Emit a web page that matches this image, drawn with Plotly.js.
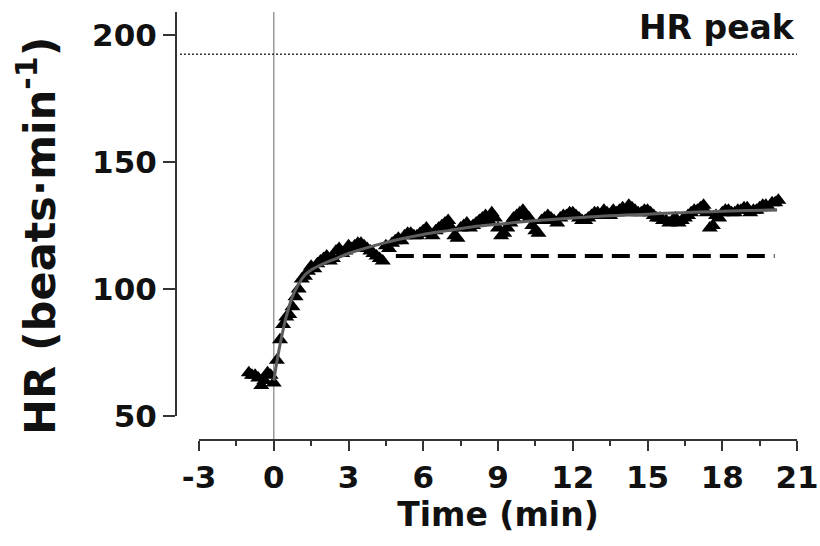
<!DOCTYPE html>
<html>
<head>
<meta charset="utf-8">
<script src="https://cdn.plot.ly/plotly-3.0.1.min.js"></script>
<style>html,body{margin:0;padding:0;background:#fff;}#chart{width:820px;height:546px;}</style>
</head>
<body>
<div id="chart"></div>
<script>
// Measured HR data (beats·min-1) vs time (min)
var timeData = [-1, -0.75, -0.5, -0.25, 0,
  0.25, 0.5, 0.75, 1.0, 1.25, 1.5, 1.75, 2.0, 2.25, 2.5, 2.75, 3.0, 3.25, 3.5, 3.75,
  4.0, 4.25, 4.5, 4.75, 5.0, 5.25, 5.5, 5.75, 6.0, 6.25, 6.5, 6.75, 7.0, 7.25, 7.5, 7.75,
  8.0, 8.25, 8.5, 8.75, 9.0, 9.25, 9.5, 9.75, 10.0, 10.25, 10.5, 10.75, 11.0, 11.25, 11.5, 11.75,
  12.0, 12.25, 12.5, 12.75, 13.0, 13.25, 13.5, 13.75, 14.0, 14.25, 14.5, 14.75, 15.0, 15.25, 15.5, 15.75,
  16.0, 16.25, 16.5, 16.75, 17.0, 17.25, 17.5, 17.75, 18.0, 18.25, 18.5, 18.75, 19.0, 19.25, 19.5, 19.75,
  20.0, 20.25];
var hrData = [67, 66, 62, 67, 63,
  80, 89, 93, 100, 105, 109, 110, 112, 111, 115, 114, 117, 117, 118, 116,
  114, 112, 117, 118, 120, 121, 122, 121, 123, 122, 123, 125, 127, 121, 124, 126,
  125, 127, 129, 130, 124, 122, 126, 129, 131, 128, 123, 127, 129, 127, 128, 129,
  130, 128, 127, 129, 130, 131, 129, 130, 132, 133, 131, 130, 131, 129, 128, 127,
  127, 126, 128, 130, 131, 133, 124, 129, 130, 131, 130, 131, 132, 131, 132, 133,
  134, 135];
var timeData2 = [-0.875, -0.625, -0.375, -0.125,
  0.125, 0.375, 0.625, 0.875, 1.125, 1.375, 1.625, 1.875, 2.125, 2.375, 2.625, 2.875, 3.125, 3.375, 3.625, 3.875,
  4.125, 4.375, 4.625, 4.875, 5.125, 5.375, 5.625, 5.875, 6.125, 6.375, 6.625, 6.875, 7.125, 7.375, 7.625, 7.875,
  8.125, 8.375, 8.625, 8.875, 9.125, 9.375, 9.625, 9.875, 10.125, 10.375, 10.625, 10.875, 11.125, 11.375, 11.625, 11.875,
  12.125, 12.375, 12.625, 12.875, 13.125, 13.375, 13.625, 13.875, 14.125, 14.375, 14.625, 14.875, 15.125, 15.375, 15.625, 15.875,
  16.125, 16.375, 16.625, 16.875, 17.125, 17.375, 17.625, 17.875, 18.125, 18.375, 18.625, 18.875, 19.125, 19.375, 19.625, 19.875,
  20.125];
var hrData2 = [66, 65, 64, 66,
  72, 86, 90, 97, 104, 107, 108, 111, 113, 112, 116, 115, 116, 118, 117, 115,
  113, 111, 116, 119, 119, 122, 121, 122, 124, 121, 124, 126, 124, 120, 125, 124,
  126, 128, 127, 128, 121, 124, 128, 130, 129, 125, 122, 128, 128, 126, 129, 130,
  129, 127, 128, 130, 129, 130, 131, 131, 131, 132, 130, 131, 130, 128, 127, 126,
  128, 127, 129, 131, 132, 130, 125, 128, 131, 130, 131, 132, 130, 131, 133, 132,
  134];

// Fitted curve
var fitTime = [0, 0.25, 0.5, 0.75, 1, 1.25, 1.5, 2, 2.5, 3, 4, 5, 6, 7, 8, 9, 10, 11, 12, 13, 14, 15, 16, 17, 18, 19, 20.2];
var fitHR =   [64, 78, 89, 97, 102, 105.5, 107.5, 110, 112, 114, 117, 119.5, 121.5, 123, 124.5, 125.5, 126.5, 127.3, 128, 128.6, 129.1, 129.5, 129.9, 130.3, 130.6, 130.9, 131.2];

// Dashed reference level
var levelTime = [4.9, 20.1];
var levelHR = [113, 113];

// HR peak level
var hrPeak = 192.5;

// Axis ticks
var xTickVals = [-3, 0, 3, 6, 9, 12, 15, 18, 21];
var xTickText = ['-3', '0', '3', '6', '9', '12', '15', '18', '21'];
var yTickVals = [50, 100, 150, 200];
var yTickText = ['50', '100', '150', '200'];

var FONT = 'DejaVu Sans, Liberation Sans, Arial, sans-serif';
var markerStyle = {symbol: 'triangle-up', size: 14, color: '#000'};

var traces = [
  {x: timeData, y: hrData, type: 'scatter', mode: 'markers', marker: markerStyle,
   hoverinfo: 'skip', showlegend: false},
  {x: timeData2, y: hrData2, type: 'scatter', mode: 'markers', marker: markerStyle,
   hoverinfo: 'skip', showlegend: false},
  {x: fitTime, y: fitHR, type: 'scatter', mode: 'lines',
   line: {color: '#5e5e5e', width: 3, shape: 'spline'},
   hoverinfo: 'skip', showlegend: false},
  {x: levelTime, y: levelHR, type: 'scatter', mode: 'lines',
   line: {color: '#000', width: 4, dash: '18px,9px'},
   hoverinfo: 'skip', showlegend: false}
];

var layout = {
  width: 820, height: 546,
  margin: {l: 176, r: 23, t: 12, b: 106, pad: 0},
  paper_bgcolor: '#fff', plot_bgcolor: 'rgba(0,0,0,0)',
  showlegend: false,
  font: {family: FONT, color: '#111'},
  xaxis: {
    domain: [23 / 621, 1],
    range: [-3, 21],
    anchor: 'free', position: 0,
    showline: true, linecolor: '#333', linewidth: 2,
    ticks: 'outside', ticklen: 10, tickwidth: 2, tickcolor: '#333',
    tickmode: 'array', tickvals: xTickVals, ticktext: xTickText,
    minor: {ticks: 'outside', ticklen: 5, tickwidth: 2, tickcolor: '#333', tick0: 0, dtick: 1.5},
    tickfont: {family: FONT, size: 31, color: '#111', weight: 'bold'},
    showgrid: false, zeroline: false,
    title: {text: '<b>Time (min)</b>', font: {family: FONT, size: 33, color: '#111'}, standoff: 6}
  },
  yaxis: {
    domain: [24 / 428, 1],
    range: [50, 209.1],
    anchor: 'free', position: 0,
    showline: true, linecolor: '#333', linewidth: 2,
    ticks: 'outside', ticklen: 12, tickwidth: 2, tickcolor: '#333',
    tickmode: 'array', tickvals: yTickVals, ticktext: yTickText,
    tickfont: {family: FONT, size: 31, color: '#111', weight: 'bold'},
    showgrid: false, zeroline: false
  },
  shapes: [
    {type: 'line', xref: 'x', yref: 'paper', x0: 0, x1: 0, y0: 0, y1: 1,
     line: {color: '#9a9a9a', width: 1.5}, layer: 'below'},
    {type: 'line', xref: 'paper', yref: 'y', x0: 4 / 621, x1: 1, y0: hrPeak, y1: hrPeak,
     line: {color: '#333', width: 1.5, dash: '2px,2px'}, layer: 'below'}
  ],
  annotations: [
    {xref: 'x', yref: 'y', x: 21, y: 203, xanchor: 'right', yanchor: 'middle',
     text: '<b>HR peak</b>', showarrow: false,
     font: {family: FONT, size: 33, color: '#111'}},
    {xref: 'paper', yref: 'paper', x: -139 / 621, y: 204 / 428, xanchor: 'center', yanchor: 'middle',
     textangle: -90, text: '<b>HR (beats·min<sup>-1</sup>)</b>', showarrow: false,
     font: {family: FONT, size: 43, color: '#111'}}
  ]
};

Plotly.newPlot('chart', traces, layout, {staticPlot: true, displayModeBar: false});
</script>
</body>
</html>
